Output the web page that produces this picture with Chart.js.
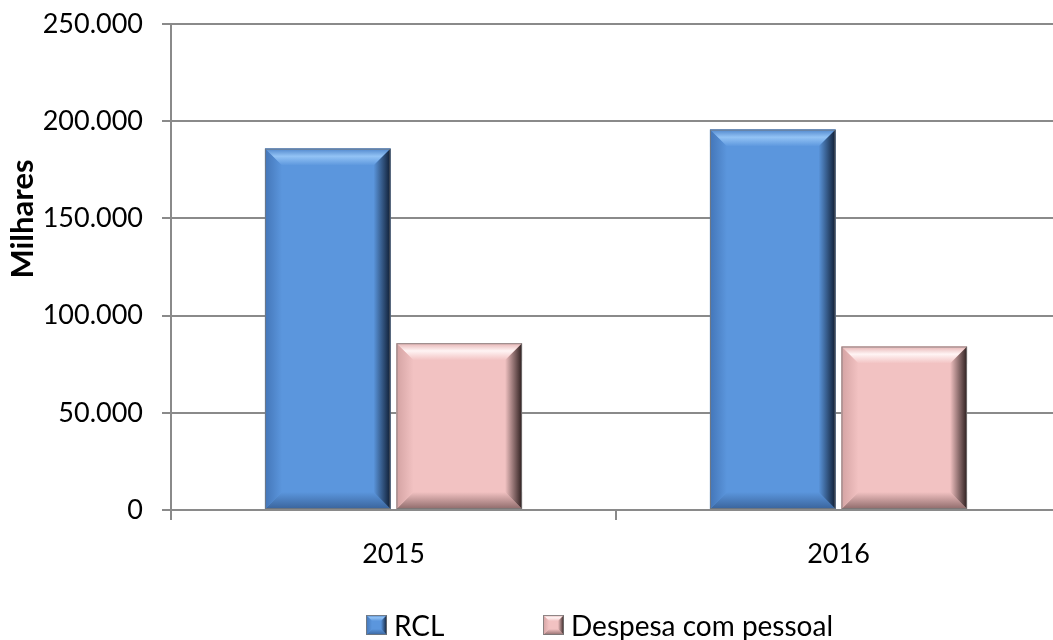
<!DOCTYPE html>
<html>
<head>
<meta charset="utf-8">
<script src="https://cdn.jsdelivr.net/npm/chart.js@4/dist/chart.umd.min.js"></script>
<style>
  html, body { margin: 0; padding: 0; background: #fff; overflow: hidden; }
  #wrap { width: 1053px; height: 640px; overflow: hidden; }
  canvas { display: block; }
</style>
</head>
<body>
<div id="wrap"><canvas id="chart" width="1062" height="640"></canvas></div>
<script>
const categories = ['2015', '2016'];
const seriesNames = ['RCL', 'Despesa com pessoal'];
const rclValues = [185900, 195700];
const despesaValues = [85800, 84100];
const yMax = 250000;
const yStep = 50000;

// cores: base + bordas do efeito de chanfro
const palettes = [
    { base: '#5b96dd', topEdge: '#4f86cc', topLight: '#93c3f5', left: '#4476b8', right: '#0f1d33', bottom: '#3a649c' },
    { base: '#f2c2c2', topEdge: '#e6b3b3', topLight: '#fff4f4', left: '#d4a3a3', right: '#2e1f1f', bottom: '#8f6b6b' }
];

function fmt(v) {
    return String(v).replace(/\B(?=(\d{3})+(?!\d))/g, '.');
}

function bevel(ctx, l, t, r, b, c, s) {
    s = Math.min(s, (r - l) / 2, (b - t) / 2);
    ctx.save();
    ctx.fillStyle = c.base;
    ctx.fillRect(l, t, r - l, b - t);
    let g;
    // cima
    g = ctx.createLinearGradient(0, t, 0, t + s);
    g.addColorStop(0, c.topEdge); g.addColorStop(0.45, c.topLight); g.addColorStop(1, c.base);
    ctx.fillStyle = g;
    ctx.beginPath(); ctx.moveTo(l, t); ctx.lineTo(r, t); ctx.lineTo(r - s, t + s); ctx.lineTo(l + s, t + s); ctx.closePath(); ctx.fill();
    // baixo
    g = ctx.createLinearGradient(0, b - s, 0, b);
    g.addColorStop(0, c.base); g.addColorStop(1, c.bottom);
    ctx.fillStyle = g;
    ctx.beginPath(); ctx.moveTo(l, b); ctx.lineTo(r, b); ctx.lineTo(r - s, b - s); ctx.lineTo(l + s, b - s); ctx.closePath(); ctx.fill();
    // esquerda
    g = ctx.createLinearGradient(l, 0, l + s, 0);
    g.addColorStop(0, c.left); g.addColorStop(1, c.base);
    ctx.fillStyle = g;
    ctx.beginPath(); ctx.moveTo(l, t); ctx.lineTo(l + s, t + s); ctx.lineTo(l + s, b - s); ctx.lineTo(l, b); ctx.closePath(); ctx.fill();
    // direita
    g = ctx.createLinearGradient(r - s, 0, r, 0);
    g.addColorStop(0, c.base); g.addColorStop(1, c.right);
    ctx.fillStyle = g;
    ctx.beginPath(); ctx.moveTo(r, t); ctx.lineTo(r - s, t + s); ctx.lineTo(r - s, b - s); ctx.lineTo(r, b); ctx.closePath(); ctx.fill();
    ctx.strokeStyle = 'rgba(120,120,120,0.8)';
    ctx.lineWidth = 1;
    ctx.strokeRect(l + 0.5, t + 0.5, r - l - 1, b - t - 1);
    ctx.restore();
}

const bevelPlugin = {
    id: 'bevel',
    afterDatasetsDraw(chart) {
        const ctx = chart.ctx;
        chart.data.datasets.forEach((ds, i) => {
            chart.getDatasetMeta(i).data.forEach(bar => {
                bevel(ctx, bar.x - bar.width / 2, bar.y, bar.x + bar.width / 2, bar.base, palettes[i], 17);
            });
        });
    }
};

// título do eixo e legenda
const extrasPlugin = {
    id: 'extras',
    afterDraw(chart) {
        const ctx = chart.ctx;
        ctx.save();
        ctx.translate(23, 219);
        ctx.rotate(-Math.PI / 2);
        ctx.font = 'bold 31px Lato';
        ctx.fillStyle = '#000';
        ctx.textAlign = 'center';
        ctx.textBaseline = 'middle';
        ctx.fillText('Milhares', 0, 0);
        ctx.restore();

        const legendX = [366, 543];
        ctx.save();
        ctx.font = '28px Lato';
        ctx.fillStyle = '#000';
        ctx.textBaseline = 'middle';
        chart.data.datasets.forEach((ds, i) => {
            bevel(ctx, legendX[i], 615, legendX[i] + 21, 635, palettes[i], 6);
            ctx.fillText(ds.label, legendX[i] + 28, 627);
        });
        ctx.restore();
    }
};

document.addEventListener('DOMContentLoaded', function() {
    const ctx = document.getElementById('chart').getContext('2d');
    new Chart(ctx, {
        type: 'bar',
        data: {
            labels: categories,
            datasets: [
                { label: seriesNames[0], data: rclValues, backgroundColor: palettes[0].base, borderWidth: 0 },
                { label: seriesNames[1], data: despesaValues, backgroundColor: palettes[1].base, borderWidth: 0 }
            ]
        },
        options: {
            responsive: false,
            animation: false,
            devicePixelRatio: 1,
            categoryPercentage: 0.591,
            barPercentage: 0.955,
            layout: { padding: { top: 24, right: 1, left: 0, bottom: 0 } },
            plugins: {
                legend: { display: false },
                tooltip: { enabled: false }
            },
            scales: {
                x: {
                    afterFit: s => { s.height = 130; },
                    grid: { drawOnChartArea: false, drawTicks: true, tickLength: 10, color: '#8a8a8a', lineWidth: 2 },
                    border: { display: true, color: '#8a8a8a', width: 2 },
                    ticks: { color: '#000', font: { family: 'Lato', size: 27 }, padding: 18 }
                },
                y: {
                    min: 0,
                    max: yMax,
                    afterFit: s => { s.width = 171; s.paddingTop = 0; s.paddingBottom = 0; },
                    grid: { color: '#8a8a8a', lineWidth: 2, drawTicks: true, tickLength: 9 },
                    border: { display: true, color: '#8a8a8a', width: 2 },
                    ticks: {
                        stepSize: yStep,
                        color: '#000',
                        font: { family: 'Lato', size: 27 },
                        padding: 19,
                        callback: v => fmt(v)
                    }
                }
            }
        },
        plugins: [bevelPlugin, extrasPlugin]
    });
});
</script>
</body>
</html>
